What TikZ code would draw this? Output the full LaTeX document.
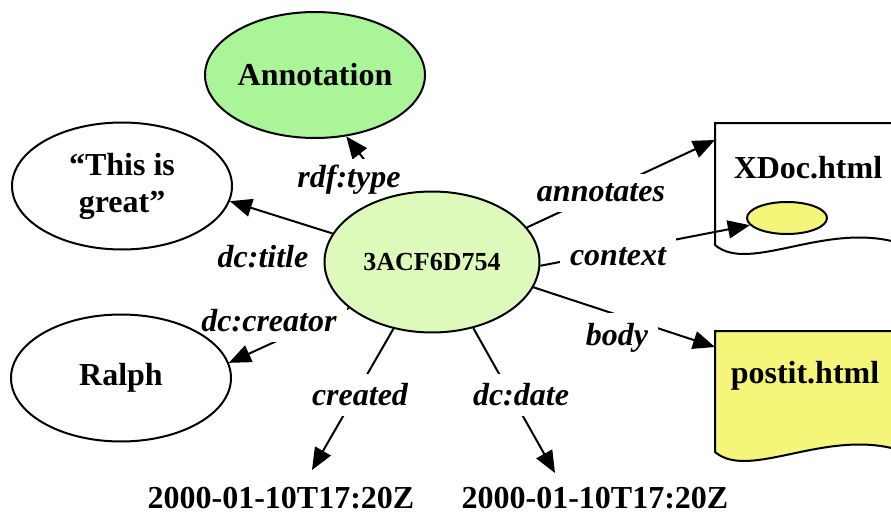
\documentclass[tikz,border=0pt]{standalone}
\usepackage{fontspec}
\setmainfont{Liberation Serif}
\usepackage{xcolor}
\usetikzlibrary{
    shapes.geometric,
    arrows.meta,
    positioning,
    backgrounds
}
\definecolor{annogreen}{RGB}{170,245,152}
\definecolor{maingreen}{RGB}{222,250,186}
\definecolor{noteyellow}{RGB}{245,245,122}

\begin{document}
\begin{tikzpicture}[
        x=0.5pt, y=-0.5pt,
        res/.style={ellipse, draw, fill=white, line width=1pt, inner sep=0pt, align=center, font=\fontsize{16}{18.5}\selectfont\bfseries},
        lbl/.style={fill=white, inner sep=5pt, font=\fontsize{16}{18}\selectfont\bfseries\itshape},
        lit/.style={inner sep=2pt, font=\fontsize{16}{18}\selectfont\bfseries},
        doc/.style={line width=1pt, line join=miter},
        arrow/.style={-{Triangle[length=11pt,width=9pt]}, line width=1pt}
    ]
        \useasboundingbox (0,0) rectangle (891,514);
        \clip (0,0) rectangle (891,514);

        % documents
        \begin{scope}[on background layer]
        \draw[doc, fill=white] (715,123) -- (905,123) -- (905,245) .. controls (830,218) and (750,275) .. (715,245) -- cycle;
        \draw[doc, fill=noteyellow] (715,331) -- (905,331) -- (905,452) .. controls (830,425) and (750,482) .. (715,452) -- cycle;
        \end{scope}
        \node[lit] (xdoc) at (808,168) {XDoc.html};
        \node[lit] (postit) at (805,376) {postit.html};
        \node[ellipse, draw, line width=1pt, fill=noteyellow, minimum width=40pt, minimum height=16pt, inner sep=0pt] (sel) at (787,218) {};
        \coordinate (xdocin) at (715,140);
        \coordinate (postin) at (715,347);

        % resources
        \node[res, fill=annogreen, minimum width=110pt, minimum height=63pt] (anno) at (315,75) {Annotation};
        \node[res, fill=maingreen, minimum width=107.5pt, minimum height=70.5pt, font=\fontsize{13}{15}\selectfont\bfseries] (main) at (432,262) {3ACF6D754};
        \node[res, minimum width=110pt, minimum height=63.5pt] (title) at (122,186) {“This is\\great”};
        \node[res, minimum width=110pt, minimum height=63.5pt] (ralph) at (121,378) {Ralph};
        \node[lit] (date1) at (281,498) {2000-01-10T17:20Z};
        \node[lit] (date2) at (595,498) {2000-01-10T17:20Z};
        \coordinate (date1in) at (312,470);
        \coordinate (date2in) at (555,473);

        % properties
        \begin{scope}[on background layer]
        \draw[arrow] (main.121) -- (anno.-63);
        \draw[arrow] (main.164) -- (title.-8);
        \draw[arrow] (main.209) -- (ralph.8);
        \draw[arrow] (main.240) -- (date1in);
        \draw[arrow] (main.302) -- (date2in);
        \draw[arrow] (main.20) -- (xdocin);
        \draw[arrow] (main.-2) -- (sel);
        \draw[arrow] (main.-14) -- (postin);

        \node[lbl, inner ysep=3pt] (ltype) at (349,180) {rdf:type};
        \node[lbl] (ltitle) at (263,257) {dc:title};
        \node[lbl] (lcreator) at (269,321) {dc:creator};
        \node[lbl] (lcreated) at (360,395) {created};
        \node[lbl] (ldate) at (521,395) {dc:date};
        \node[lbl] (lannot) at (601,193) {annotates};
        \node[lbl] (lcontext) at (618,257) {context};
        \node[lbl] (lbody) at (617,338) {body};
        \end{scope}
    \end{tikzpicture}
\end{document}
